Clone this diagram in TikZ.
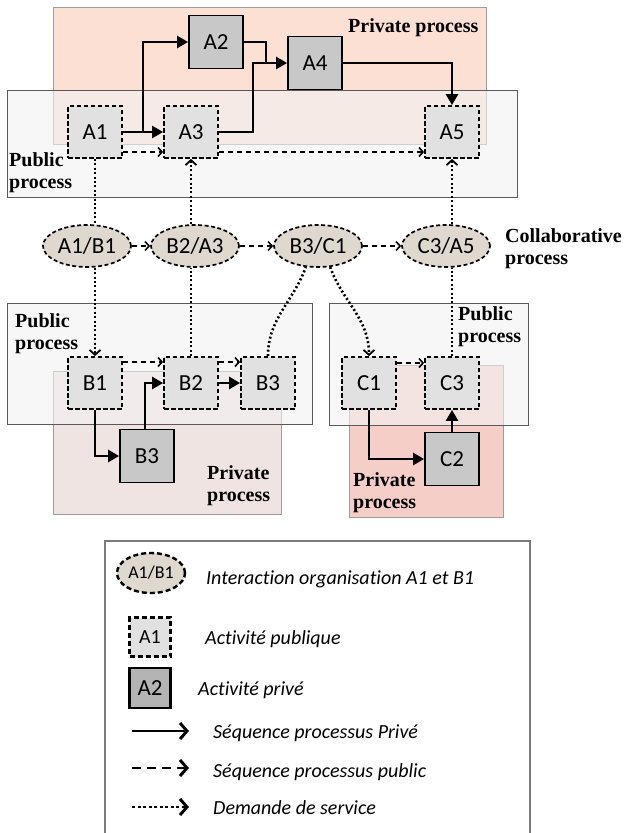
\documentclass[tikz,border=0pt]{standalone}
\usepackage{fontspec}
\setmainfont{Liberation Serif}
\newfontfamily\gillfont[Ligatures={NoCommon}]{Carlito}
\usetikzlibrary{arrows.meta,shapes.geometric}
\definecolor{zoneline}{RGB}{90,90,90}
\definecolor{pubzonefill}{RGB}{242,242,242}
\definecolor{privAfill}{RGB}{252,224,212}
\definecolor{privBfill}{RGB}{240,228,226}
\definecolor{privCfill}{RGB}{246,206,200}
\definecolor{collabfill}{RGB}{222,216,206}
\definecolor{pubboxfill}{RGB}{225,225,225}
\definecolor{privboxfill}{RGB}{200,200,200}
\tikzset{
  pubzone/.style={draw=zoneline, line width=0.9pt, fill=pubzonefill, fill opacity=0.6},
  privzone/.style={draw=zoneline!60, line width=0.9pt},
  pubbox/.style={draw, dash pattern=on 4.5pt off 2.5pt, line width=1.8pt, fill=pubboxfill, minimum width=54pt, minimum height=52pt, inner sep=0pt, font=\gillfont\fontsize{23}{23}\selectfont},
  privbox/.style={draw, line width=1.8pt, fill=privboxfill, minimum width=54pt, minimum height=53pt, inner sep=0pt, font=\gillfont\fontsize{23}{23}\selectfont},
  collab/.style={ellipse, draw, dash pattern=on 4pt off 2.5pt, line width=1.7pt, fill=collabfill, minimum width=88pt, minimum height=42pt, inner sep=0pt, font=\gillfont\fontsize{23}{23}\selectfont},
  privseq/.style={line width=2.6pt, -{Triangle[length=11pt,width=12pt]}},
  privline/.style={line width=2.6pt},
  pubseq/.style={line width=1.8pt, dash pattern=on 5pt off 4pt, -{Straight Barb[length=4pt,width=9pt,line width=1.6pt]}},
  request/.style={line width=2.6pt, dash pattern=on 2pt off 2.4pt, -{Straight Barb[length=5pt,width=11pt,line width=1.8pt]}},
  link/.style={line width=2.6pt, dash pattern=on 2pt off 2.4pt},
  zonelbl/.style={font=\bfseries\fontsize{20}{22}\selectfont, align=left, inner sep=0pt, anchor=north west},
  keylbl/.style={font=\gillfont\itshape\fontsize{20}{20}\selectfont, inner sep=0pt, anchor=base west},
  keytip/.style={line width=2.8pt, -{Straight Barb[length=7pt,width=16pt,line width=3pt]}}
}
\begin{document}
\begin{tikzpicture}[x=1pt,y=-1pt]
  \useasboundingbox (0,0) rectangle (629,833);
  % zones
  \draw[privzone, fill=privAfill] (53,7) rectangle (486,144);
  \draw[pubzone] (7,90) rectangle (517,197);
  \draw[privzone, fill=privBfill] (53,371) rectangle (281,514);
  \draw[pubzone] (7,303) rectangle (312,424);
  \draw[privzone, fill=privCfill] (349,365) rectangle (503,517);
  \draw[pubzone] (329,303) rectangle (528,425);
  \node[zonelbl, anchor=base west] (lprivA) at (348,32) {Private process};
  \node[zonelbl] (lpubA) at (9,152) {Public\\process};
  \node[zonelbl] (lcollab) at (505,228) {Collaborative\\process};
  \node[zonelbl] (lpubB) at (15,313) {Public\\process};
  \node[zonelbl] (lprivB) at (207,465) {Private\\process};
  \node[zonelbl] (lpubC) at (458,306) {Public\\process};
  \node[zonelbl] (lprivC) at (353,472) {Private\\process};

  % organisation A
  \node[pubbox] (a1) at (95,132) {A1};
  \node[privbox] (a2) at (216,42) {A2};
  \node[pubbox] (a3) at (191,132) {A3};
  \node[privbox] (a4) at (315,63) {A4};
  \node[pubbox] (a5) at (452,132) {A5};
  \coordinate (fork) at (143,132);
  \draw[privseq] (a1) -- (a3);
  \draw[privseq] (fork) |- (a2);
  \draw[privline] (a2.east) -| ([xshift=-21pt]a4.west);
  \draw[privseq] (a3.east) -| ([xshift=-34pt]a4.west) -- (a4.west);
  \draw[privseq] (a4.east) -| (a5.north);
  \draw[pubseq] ([yshift=-20pt]a1.east) -- ([yshift=-20pt]a3.west);
  \draw[pubseq] ([yshift=-20pt]a3.east) -- ([yshift=-20pt]a5.west);

  % collaborative process
  \node[collab] (ab) at (87,246) {A1/B1};
  \node[collab] (ba) at (195,246) {B2/A3};
  \node[collab] (bc) at (318,246) {B3/C1};
  \node[collab] (ca) at (446,246) {C3/A5};
  \draw[pubseq] (ab) -- (ba);
  \draw[pubseq] (ba) -- (bc);
  \draw[pubseq] (bc) -- (ca);

  % organisation B
  \node[pubbox] (b1) at (95,383) {B1};
  \node[pubbox] (b2) at (191,383) {B2};
  \node[pubbox] (b3) at (268,383) {B3};
  \node[privbox] (b3p) at (147,456) {B3};
  \draw[pubseq] ([yshift=21pt]b1.east) -- ([yshift=21pt]b2.west);
  \draw[pubseq] ([yshift=21pt]b2.east) -- ([yshift=21pt]b3.west);
  \draw[privseq] (b2) -- (b3);
  \draw[privseq] (b1.south) |- (b3p.west);
  \draw[privseq] ([xshift=-2pt]b3p.north) |- (b2.west);

  % organisation C
  \node[pubbox] (c1) at (369,383) {C1};
  \node[pubbox] (c3) at (452,383) {C3};
  \node[privbox] (c2) at (452,459) {C2};
  \draw[pubseq] ([yshift=20pt]c1.east) -- ([yshift=20pt]c3.west);
  \draw[privseq] (c1.south) |- (c2.west);
  \draw[privseq] (c2) -- (c3);

  % service requests
  \draw[link] (a1.south) -- (a1.south |- ab.north);
  \draw[request] (ab.south -| b1.north) -- (b1.north);
  \draw[link] (b2.north) -- (b2.north |- ba.south);
  \draw[request] (ba.north -| a3.south) -- (a3.south);
  \draw[link] (b3.north) to[out=90,in=250] (bc.240);
  \draw[request] (bc.300) to[out=290,in=90] (c1.north);
  \draw[link] (c3.north) -- (c3.north |- ca.south);
  \draw[request] (ca.north -| a5.south) -- (a5.south);

  % legend
  \draw[draw=zoneline!80, line width=1.2pt] (105,833) -- (105,541) -- (530,541) -- (530,833);
  \node[collab, minimum width=68pt, minimum height=40pt, line width=2.4pt, dash pattern=on 5pt off 3pt, font=\gillfont\fontsize{18}{18}\selectfont] (keyab) at (151,573) {A1/B1};
  \node[pubbox, minimum width=41pt, minimum height=39pt, line width=2.4pt, dash pattern=on 5pt off 3pt, font=\gillfont\fontsize{20}{20}\selectfont] (keya1) at (150,637) {A1};
  \node[privbox, minimum width=41pt, minimum height=40pt, line width=2.4pt, fill=privboxfill!90!black, font=\gillfont\fontsize{23}{23}\selectfont] (keya2) at (150,688) {A2};
  \node[keylbl] (tab) at (206,584) {Interaction organisation A1 et B1};
  \node[keylbl] (ta1) at (205,644) {Activité publique};
  \node[keylbl] (ta2) at (198,695) {Activité privé};
  \coordinate (kin1) at (132,731);
  \coordinate (kout1) at (189,731);
  \coordinate (kin2) at (132,768);
  \coordinate (kout2) at (189,768);
  \coordinate (kin3) at (132,807);
  \coordinate (kout3) at (189,807);
  \draw[keytip] (kin1) -- (kout1);
  \draw[keytip, dash pattern=on 9pt off 6pt] (kin2) -- (kout2);
  \draw[keytip, dash pattern=on 3pt off 2.5pt] (kin3) -- (kout3);
  \node[keylbl] (tk1) at (213,738) {Séquence processus Privé};
  \node[keylbl] (tk2) at (213,777) {Séquence processus public};
  \node[keylbl] (tk3) at (213,814) {Demande de service};
\end{tikzpicture}
\end{document}
